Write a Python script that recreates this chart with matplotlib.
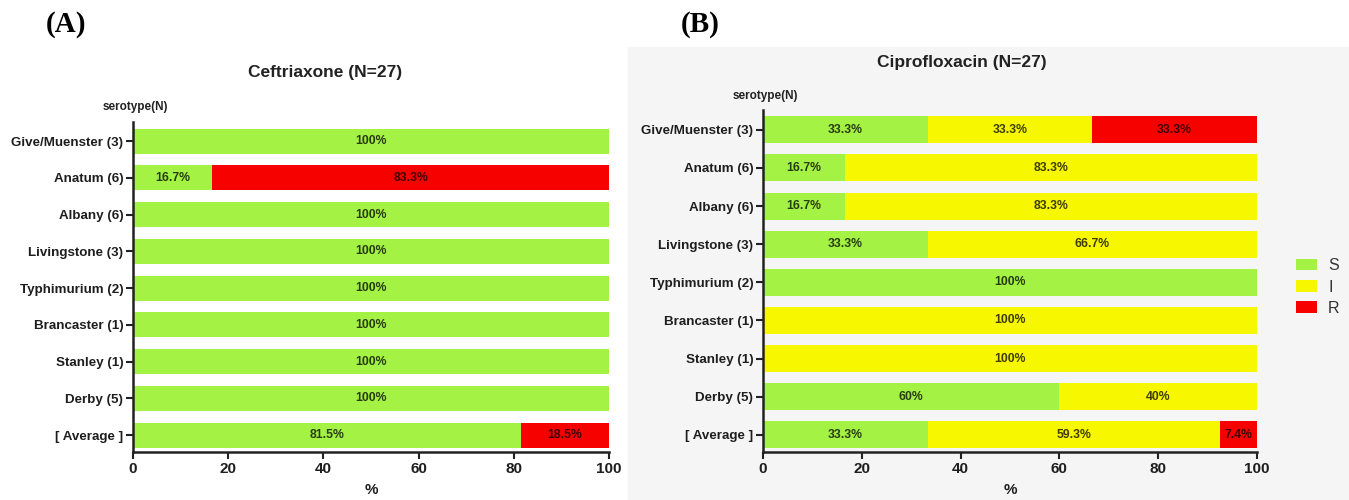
import matplotlib.pyplot as plt
import matplotlib.patches as mpatches
import numpy as np

# serotypes listed top to bottom
serotypes = ['Give/Muenster (3)', 'Anatum (6)', 'Albany (6)', 'Livingstone (3)',
             'Typhimurium (2)', 'Brancaster (1)', 'Stanley (1)', 'Derby (5)',
             '[ Average ]']

# Ceftriaxone: % susceptible / intermediate / resistant
cro_s = [100, 16.7, 100, 100, 100, 100, 100, 100, 81.5]
cro_i = [0, 0, 0, 0, 0, 0, 0, 0, 0]
cro_r = [0, 83.3, 0, 0, 0, 0, 0, 0, 18.5]

# Ciprofloxacin: % susceptible / intermediate / resistant
cip_s = [33.3, 16.7, 16.7, 33.3, 100, 0, 0, 60, 33.3]
cip_i = [33.3, 83.3, 83.3, 66.7, 0, 100, 100, 40, 59.3]
cip_r = [33.3, 0, 0, 0, 0, 0, 0, 0, 7.4]

colors = {'S': '#a3f244', 'I': '#f7f700', 'R': '#f70000'}
plt.rcParams['font.family'] = ['Liberation Sans', 'DejaVu Sans']

fig = plt.figure(figsize=(13.49, 5), dpi=100)

# light grey backdrop behind panel B
fig.patches.append(mpatches.Rectangle((628 / 1349, 0), 1 - 628 / 1349, 1 - 47 / 500,
                                      transform=fig.transFigure, color='#f5f5f5',
                                      zorder=-5))

ax1 = fig.add_axes([133 / 1349, 48 / 500, 476 / 1349, 330 / 500])
ax2 = fig.add_axes([763 / 1349, 48 / 500, 494 / 1349, 342 / 500])
ax2.set_facecolor('#f5f5f5')


def draw_panel(ax, s, i, r, height, ylim):
    y = np.arange(len(serotypes))[::-1]
    s = np.array(s)
    i = np.array(i)
    r = np.array(r)
    bars = []
    lefts = [np.zeros(len(s)), s, s + i]
    for vals, left, key in zip([s, i, r], lefts, ['S', 'I', 'R']):
        bars.append(ax.barh(y, vals, left=left, height=height, color=colors[key],
                            label=key))
        for yy, v, l in zip(y, vals, left):
            if v > 0:
                ax.text(l + v / 2, yy, f'{v:g}%', ha='center', va='center',
                        fontsize=8.8, fontweight='bold', color='black', alpha=0.75)
    ax.set_xlim(0, 100)
    ax.set_ylim(*ylim)
    ax.set_yticks(y)
    ax.set_yticklabels(serotypes, fontsize=9.6, fontweight='bold', color='#1e1e1e')
    ax.set_xticks([0, 20, 40, 60, 80, 100])
    ax.set_xticklabels(['0', '20', '40', '60', '80', '100'], fontsize=11,
                       fontweight='bold', color='#1e1e1e')
    ax.set_xlabel('%', fontsize=11, fontweight='bold', color='#1e1e1e', labelpad=5)
    for side in ['top', 'right']:
        ax.spines[side].set_visible(False)
    for side in ['left', 'bottom']:
        ax.spines[side].set_linewidth(1.8)
        ax.spines[side].set_color('#222222')
    ax.tick_params(axis='both', width=1.5, length=5, color='#222222', pad=2)
    return bars


draw_panel(ax1, cro_s, cro_i, cro_r, 0.68, (-0.46, 8.52))
bars = draw_panel(ax2, cip_s, cip_i, cip_r, 0.71, (-0.45, 8.52))

fig.text(325 / 1349, 1 - 73 / 500, 'Ceftriaxone (N=27)', ha='center', va='center',
         fontsize=12.5, fontweight='bold', color='#222222')
fig.text(962 / 1349, 1 - 62 / 500, 'Ciprofloxacin (N=27)', ha='center', va='center',
         fontsize=12.5, fontweight='bold', color='#222222')
fig.text(135 / 1349, 1 - 107 / 500, 'serotype(N)', ha='center', va='center',
         fontsize=8.5, fontweight='bold', color='#222222')
fig.text(765 / 1349, 1 - 96 / 500, 'serotype(N)', ha='center', va='center',
         fontsize=8.5, fontweight='bold', color='#222222')

fig.text(66 / 1349, 1 - 24 / 500, '(A)', ha='center', va='center', fontsize=21,
         fontweight='bold', family=['Liberation Serif'])
fig.text(700 / 1349, 1 - 24 / 500, '(B)', ha='center', va='center', fontsize=21,
         fontweight='bold', family=['Liberation Serif'])

fig.legend(handles=bars, labels=['S', 'I', 'R'], loc='center left',
           bbox_to_anchor=(1285 / 1349, 1 - 287 / 500), frameon=False,
           prop={'size': 11.5}, labelcolor='#333333',
           handlelength=1.3, handleheight=0.75, labelspacing=0.4, handletextpad=0.7,
           borderaxespad=0.3)

fig.savefig('out.png', dpi=100)
